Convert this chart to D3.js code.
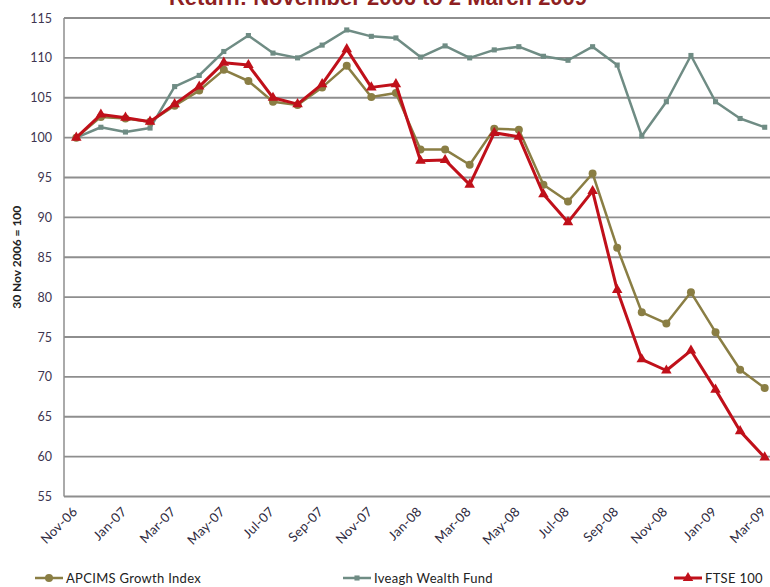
<!DOCTYPE html>
<html>
<head>
<meta charset="utf-8">
<script src="https://cdn.jsdelivr.net/npm/d3@7"></script>
<style>
  body { margin: 0; background: #fff; overflow: hidden; }
  svg { display: block; font-family: Lato, "Open Sans", sans-serif; }
</style>
</head>
<body>
<svg id="chart" width="770" height="587"></svg>
<script>
// monthly points, Nov-06 .. Mar-09
const months = ["Nov-06","Dec-06","Jan-07","Feb-07","Mar-07","Apr-07","May-07","Jun-07","Jul-07","Aug-07",
  "Sep-07","Oct-07","Nov-07","Dec-07","Jan-08","Feb-08","Mar-08","Apr-08","May-08","Jun-08",
  "Jul-08","Aug-08","Sep-08","Oct-08","Nov-08","Dec-08","Jan-09","Feb-09","Mar-09"];

const apcims = [100, 102.6, 102.4, 102.0, 104.0, 105.9, 108.5, 107.1, 104.5, 104.1,
  106.3, 109.0, 105.1, 105.6, 98.5, 98.5, 96.6, 101.1, 101.0, 94.1,
  92.0, 95.5, 86.2, 78.1, 76.7, 80.6, 75.6, 70.9, 68.6];

const iveagh = [100, 101.3, 100.7, 101.2, 106.4, 107.8, 110.8, 112.8, 110.6, 110.0,
  111.6, 113.5, 112.7, 112.5, 110.1, 111.5, 110.0, 111.0, 111.4, 110.2,
  109.7, 111.4, 109.1, 100.2, 104.5, 110.3, 104.5, 102.4, 101.3];

const ftse = [100, 102.9, 102.5, 102.0, 104.2, 106.4, 109.4, 109.1, 105.0, 104.2,
  106.7, 111.1, 106.3, 106.7, 97.1, 97.2, 94.1, 100.6, 100.1, 92.9,
  89.4, 93.3, 80.9, 72.2, 70.8, 73.3, 68.4, 63.2, 59.9];

const yTicks = [55, 60, 65, 70, 75, 80, 85, 90, 95, 100, 105, 110, 115];

const series = [
  { name: "Iveagh Wealth Fund", values: iveagh, color: "#6f8c84", width: 2.5, marker: "square" },
  { name: "APCIMS Growth Index", values: apcims, color: "#8a7e44", width: 2.5, marker: "circle" },
  { name: "FTSE 100", values: ftse, color: "#c0101a", width: 3, marker: "triangle" }
];

const svg = d3.select("#chart");
const margin = { left: 64, top: 18, right: -7, bottom: 90 };
const W = 770, H = 587;
const plotBottom = 496.5;

const x = d3.scaleBand().domain(months).range([margin.left, W - margin.right]);
const y = d3.scaleLinear().domain([55, 115]).range([plotBottom, margin.top]);
const cx = d => x(d) + x.bandwidth() / 2;

// title (cut off at top in the original)
svg.append("text")
  .attr("x", 378).attr("y", 5)
  .attr("text-anchor", "middle")
  .style("font-family", "'Liberation Sans', Arial, sans-serif")
  .style("font-weight", "bold")
  .style("font-size", "22px")
  .attr("fill", "#8e1f22")
  .text("Return: November 2006 to 2 March 2009");

// gridlines
svg.append("g")
  .selectAll("line")
  .data(yTicks)
  .join("line")
  .attr("x1", margin.left).attr("x2", W)
  .attr("y1", d => y(d)).attr("y2", d => y(d))
  .attr("stroke", "#8e8e8e")
  .attr("stroke-width", 1.8);

// left axis line
svg.append("line")
  .attr("x1", margin.left).attr("x2", margin.left)
  .attr("y1", y(115)).attr("y2", y(55))
  .attr("stroke", "#8e8e8e").attr("stroke-width", 1.5);

// y tick labels
const yAxis = svg.append("g")
  .attr("transform", `translate(${margin.left},0)`)
  .call(d3.axisLeft(y).tickValues(yTicks).tickSize(0).tickPadding(12));
yAxis.select(".domain").remove();
yAxis.selectAll("text")
  .style("font-family", "Lato, sans-serif")
  .style("font-size", "12.5px")
  .attr("fill", "#3d3550");

// y axis title
svg.append("text")
  .attr("transform", `translate(21,${(y(115) + y(55)) / 2}) rotate(-90)`)
  .attr("text-anchor", "middle")
  .style("font-size", "12px")
  .style("font-weight", "bold")
  .attr("fill", "#222")
  .text("30 Nov 2006 = 100");

// x tick labels, every other month, rotated
svg.append("g")
  .selectAll("text")
  .data(months.filter((m, i) => i % 2 === 0))
  .join("text")
  .attr("transform", d => `translate(${cx(d) + 2},${plotBottom + 16}) rotate(-45)`)
  .attr("text-anchor", "end")
  .style("font-size", "13px")
  .style("letter-spacing", "0.3px")
  .attr("fill", "#2e2a3e")
  .text(d => d);

const line = d3.line()
  .x((d, i) => cx(months[i]))
  .y(d => y(d));

const triangle = d3.symbol().type(d3.symbolTriangle).size(48);
const square = d3.symbol().type(d3.symbolSquare).size(26);

function drawMarker(sel, s) {
  if (s.marker === "circle") {
    sel.append("circle").attr("r", 4).attr("fill", s.color);
  } else if (s.marker === "square") {
    sel.append("path").attr("d", square()).attr("fill", s.color);
  } else {
    sel.append("path").attr("d", triangle()).attr("fill", s.color);
  }
}

series.forEach(s => {
  const g = svg.append("g");
  g.append("path")
    .datum(s.values)
    .attr("d", line)
    .attr("fill", "none")
    .attr("stroke", s.color)
    .attr("stroke-width", s.width)
    .attr("stroke-linejoin", "round");
  g.selectAll(".pt")
    .data(s.values)
    .join("g")
    .attr("class", "pt")
    .attr("transform", (d, i) => `translate(${cx(months[i])},${y(d)})`)
    .each(function () { drawMarker(d3.select(this), s); });
});

// legend
const legendItems = [
  { s: series[1], x: 35 },
  { s: series[0], x: 343 },
  { s: series[2], x: 674 }
];
const legend = svg.append("g").attr("transform", "translate(0,578)");
legendItems.forEach(item => {
  const g = legend.append("g").attr("transform", `translate(${item.x},0)`);
  g.append("line")
    .attr("x1", 0).attr("x2", 28)
    .attr("stroke", item.s.color)
    .attr("stroke-width", item.s.width);
  const m = g.append("g").attr("transform", "translate(14,0)");
  drawMarker(m, item.s);
  g.append("text")
    .attr("x", 31).attr("dy", "0.35em")
    .style("font-size", "13px")
    .style("letter-spacing", "0.3px")
    .attr("fill", "#222")
    .text(item.s.name);
});
</script>
</body>
</html>
